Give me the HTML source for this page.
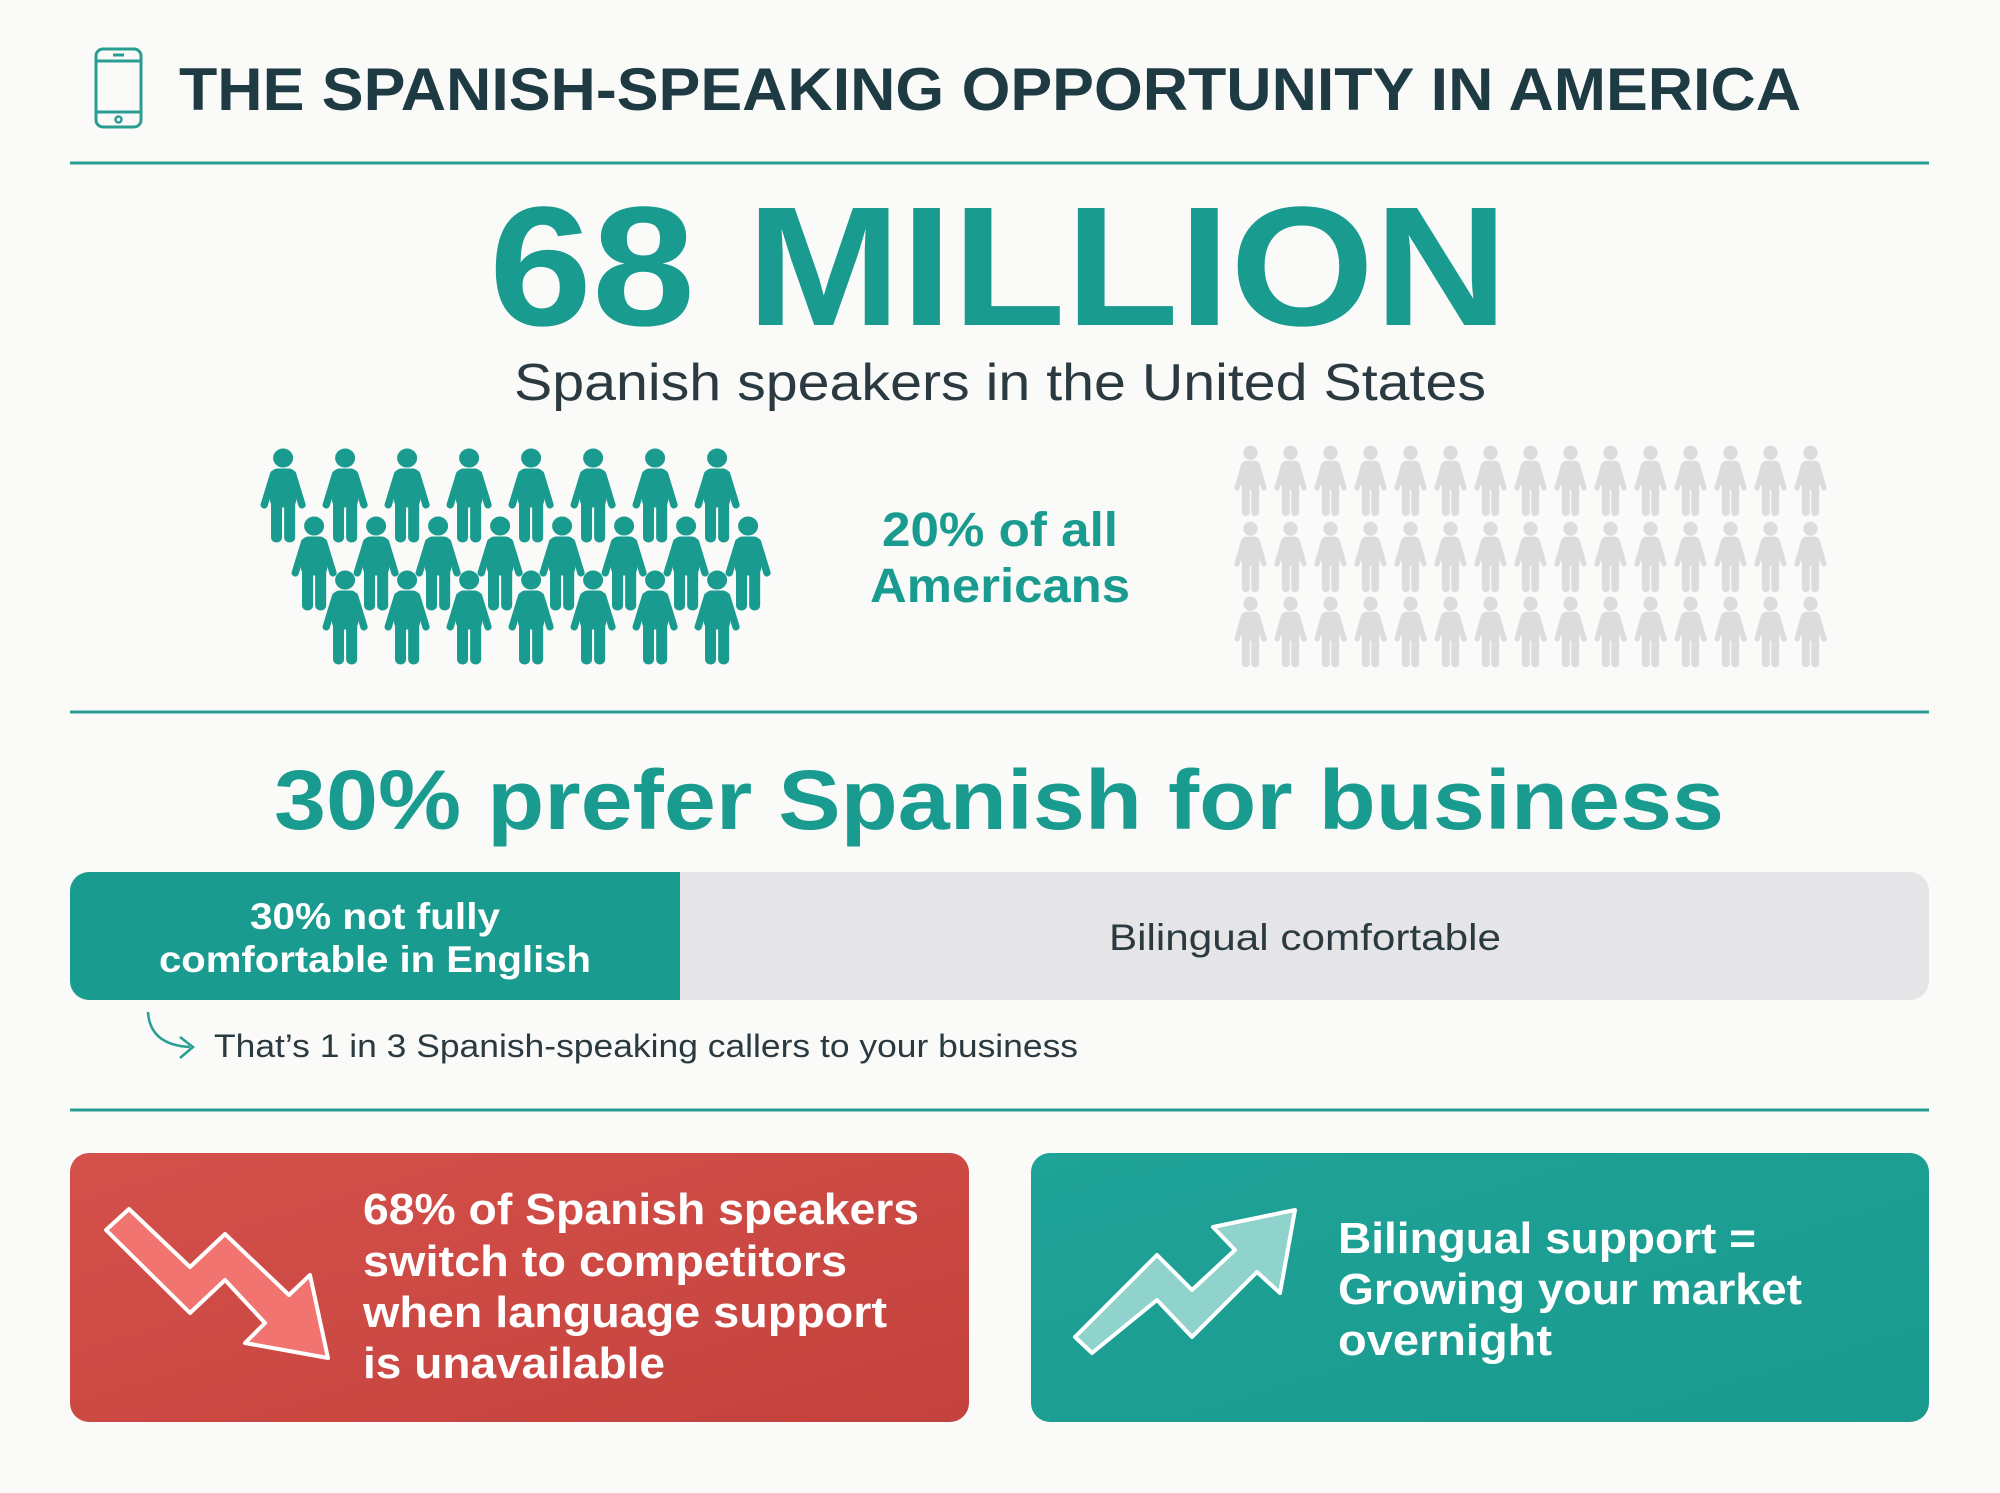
<!DOCTYPE html>
<html><head><meta charset="utf-8"><style>
html,body{margin:0;padding:0;background:#fafaf8}
svg{display:block}
text{font-family:"Liberation Sans",sans-serif}
</style></head><body>
<svg width="2000" height="1493" viewBox="0 0 2000 1493" xmlns="http://www.w3.org/2000/svg">
<defs>
<g id="p">
<circle cx="22" cy="9" r="9"/>
<rect x="10" y="20" width="24" height="38" rx="7"/>
<line x1="13" y1="25" x2="4" y2="56" stroke-width="7" stroke-linecap="round"/>
<line x1="31" y1="25" x2="40" y2="56" stroke-width="7" stroke-linecap="round"/>
<rect x="11" y="48" width="9.5" height="45" rx="4.5"/>
<rect x="23.5" y="48" width="9.5" height="45" rx="4.5"/>
</g>
<linearGradient id="rg" x1="0" y1="0" x2="1" y2="1"><stop offset="0" stop-color="#d4504b"/><stop offset="1" stop-color="#c4423d"/></linearGradient>
<linearGradient id="tg" x1="0" y1="0" x2="1" y2="1"><stop offset="0" stop-color="#1fa297"/><stop offset="1" stop-color="#1a9a8f"/></linearGradient>
</defs>
<rect width="2000" height="1493" fill="#fafaf8"/>
<!-- phone -->
<rect x="96" y="49" width="45" height="78" rx="7" fill="none" stroke="#2a9d93" stroke-width="3"/>
<line x1="96" y1="61" x2="141" y2="61" stroke="#2a9d93" stroke-width="3"/>
<line x1="96" y1="112" x2="141" y2="112" stroke="#2a9d93" stroke-width="3"/>
<line x1="113" y1="55" x2="124" y2="55" stroke="#2a9d93" stroke-width="3"/>
<circle cx="118.5" cy="119.5" r="3" fill="none" stroke="#2a9d93" stroke-width="2.5"/>
<text x="179" y="110" font-size="60" font-weight="bold" fill="#1e3a42" textLength="1622" lengthAdjust="spacingAndGlyphs">THE SPANISH-SPEAKING OPPORTUNITY IN AMERICA</text>
<line x1="70" y1="163" x2="1929" y2="163" stroke="#2a9d93" stroke-width="3"/>
<text x="489" y="325" font-size="170" font-weight="bold" fill="#1a9b90" textLength="1019" lengthAdjust="spacingAndGlyphs">68 MILLION</text>
<text x="514" y="400" font-size="52" fill="#2b3a40" textLength="972" lengthAdjust="spacingAndGlyphs">Spanish speakers in the United States</text>
<!-- teal people -->
<g fill="#1a9b90" stroke="#1a9b90">
<g id="tr1">
<use href="#p" transform="translate(260,449) scale(1.05,1)"/><use href="#p" transform="translate(322,449) scale(1.05,1)"/><use href="#p" transform="translate(384,449) scale(1.05,1)"/><use href="#p" transform="translate(446,449) scale(1.05,1)"/><use href="#p" transform="translate(508,449) scale(1.05,1)"/><use href="#p" transform="translate(570,449) scale(1.05,1)"/><use href="#p" transform="translate(632,449) scale(1.05,1)"/>
</g>
<use href="#p" transform="translate(694,449) scale(1.05,1)"/>
<use href="#tr1" x="31" y="68"/>
<use href="#p" transform="translate(725,517) scale(1.05,1)"/>
<use href="#tr1" x="62" y="122"/>
</g>
<text x="1000" y="546" font-size="48" font-weight="bold" fill="#1a9b90" text-anchor="middle" textLength="236" lengthAdjust="spacingAndGlyphs">20% of all</text>
<text x="1000" y="602" font-size="48" font-weight="bold" fill="#1a9b90" text-anchor="middle" textLength="260" lengthAdjust="spacingAndGlyphs">Americans</text>
<!-- gray people -->
<g id="grow" fill="#dcdcdc" stroke="#dcdcdc">
<use href="#p" transform="translate(1234,446) scale(0.75,0.75)"/><use href="#p" transform="translate(1274,446) scale(0.75,0.75)"/><use href="#p" transform="translate(1314,446) scale(0.75,0.75)"/><use href="#p" transform="translate(1354,446) scale(0.75,0.75)"/><use href="#p" transform="translate(1394,446) scale(0.75,0.75)"/><use href="#p" transform="translate(1434,446) scale(0.75,0.75)"/><use href="#p" transform="translate(1474,446) scale(0.75,0.75)"/><use href="#p" transform="translate(1514,446) scale(0.75,0.75)"/><use href="#p" transform="translate(1554,446) scale(0.75,0.75)"/><use href="#p" transform="translate(1594,446) scale(0.75,0.75)"/><use href="#p" transform="translate(1634,446) scale(0.75,0.75)"/><use href="#p" transform="translate(1674,446) scale(0.75,0.75)"/><use href="#p" transform="translate(1714,446) scale(0.75,0.75)"/><use href="#p" transform="translate(1754,446) scale(0.75,0.75)"/><use href="#p" transform="translate(1794,446) scale(0.75,0.75)"/>
</g>
<use href="#grow" y="76"/>
<use href="#grow" y="151"/>
<line x1="70" y1="712" x2="1929" y2="712" stroke="#2a9d93" stroke-width="3"/>
<text x="999" y="829" font-size="84" font-weight="bold" fill="#1a9b90" text-anchor="middle" textLength="1450" lengthAdjust="spacingAndGlyphs">30% prefer Spanish for business</text>
<!-- bar -->
<rect x="70" y="872" width="1859" height="128" rx="19" fill="#e5e5e7"/>
<path d="M89 872 H680 V1000 H89 A19 19 0 0 1 70 981 V891 A19 19 0 0 1 89 872Z" fill="#1a9b90"/>
<text x="375" y="929" font-size="37" font-weight="bold" fill="#fff" text-anchor="middle" textLength="250" lengthAdjust="spacingAndGlyphs">30% not fully</text>
<text x="375" y="972" font-size="37" font-weight="bold" fill="#fff" text-anchor="middle" textLength="432" lengthAdjust="spacingAndGlyphs">comfortable in English</text>
<text x="1305" y="950" font-size="37" fill="#2b3a40" text-anchor="middle" textLength="392" lengthAdjust="spacingAndGlyphs">Bilingual comfortable</text>
<path d="M148 1012 Q150 1045 190 1047" fill="none" stroke="#2a9d93" stroke-width="2.5"/>
<path d="M180 1037 L193 1047 L180 1058" fill="none" stroke="#2a9d93" stroke-width="2.5"/>
<text x="214" y="1057" font-size="32" fill="#2b3a40" textLength="864" lengthAdjust="spacingAndGlyphs">That’s 1 in 3 Spanish-speaking callers to your business</text>
<line x1="70" y1="1110" x2="1929" y2="1110" stroke="#2a9d93" stroke-width="3"/>
<!-- boxes -->
<rect x="70" y="1153" width="899" height="269" rx="19" fill="url(#rg)"/>
<rect x="1031" y="1153" width="898" height="269" rx="19" fill="url(#tg)"/>
<polygon points="106,1230 129,1209 190,1267 225,1234 289,1295 310,1275 328,1358 245,1343 265,1323 225,1280 190,1313" fill="#f27470" stroke="#fff" stroke-width="4" stroke-linejoin="round"/>
<polygon points="1075,1337 1157,1255 1192,1290 1235,1250 1213,1227 1295,1210 1280,1293 1257,1272 1192,1337 1157,1300 1092,1353" fill="#8fd3cc" stroke="#fff" stroke-width="4" stroke-linejoin="round"/>
<g font-size="44" font-weight="bold" fill="#fff">
<text x="363" y="1224" textLength="556" lengthAdjust="spacingAndGlyphs">68% of Spanish speakers</text>
<text x="363" y="1276" textLength="484" lengthAdjust="spacingAndGlyphs">switch to competitors</text>
<text x="363" y="1327" textLength="524" lengthAdjust="spacingAndGlyphs">when language support</text>
<text x="363" y="1378" textLength="302" lengthAdjust="spacingAndGlyphs">is unavailable</text>
<text x="1338" y="1253" textLength="418" lengthAdjust="spacingAndGlyphs">Bilingual support =</text>
<text x="1338" y="1304" textLength="464" lengthAdjust="spacingAndGlyphs">Growing your market</text>
<text x="1338" y="1355" textLength="214" lengthAdjust="spacingAndGlyphs">overnight</text>
</g>
</svg>
</body></html>
